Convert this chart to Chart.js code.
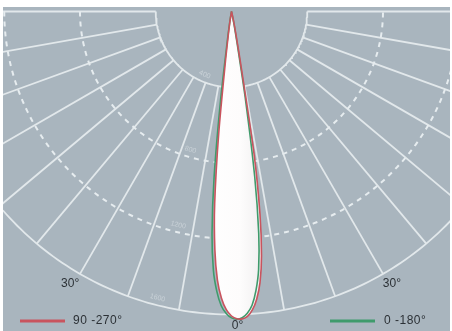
<!DOCTYPE html>
<html><head><meta charset="utf-8">
<script src="https://cdn.jsdelivr.net/npm/chart.js@4.4.0/dist/chart.umd.min.js"></script>
<style>html,body{margin:0;padding:0;background:#fff;}#w{width:452px;height:331px;position:relative;}</style>
</head><body><div id="w"><canvas id="c"></canvas></div>
<script>
// ---- data (angles in degrees, 0° = straight down, positive to the right) ----
const curveAngles = [-13,-12,-11,-10,-9,-8,-7,-6,-5,-4,-3,-2,-1,0,1,2,3,4,5,6,7,8,9,10,11,12,13,14];
const curve90_270 = [0,0,0,10,45,110,250,640,1020,1260,1420,1515,1575,1608,1623,1624,1612,1580,1525,1440,1300,1080,760,270,120,60,15,0];
const curve0_180  = [0,0,0,25,75,170,480,880,1180,1370,1480,1555,1595,1618,1625,1618,1595,1555,1480,1370,1180,880,480,170,75,25,0,0];
const gridAngles = [-90,-80,-70,-60,-50,-40,-30,-20,-10,0,10,20,30,40,50,60,70,80,90];
const ringValues = [400,800,1200,1600];
const ringLabels = ['400','800','1200','1600'];
const angleLabels = ['30°','30°','0°'];
const legendLabels = ['90 -270°','0 -180°'];

const K = 303/1600;            // pixels per cd (layout)
const PAD = {left:3,right:2,top:7,bottom:0};
const AW = 452-PAD.left-PAD.right, AH = 331-PAD.top-PAD.bottom;
const CX = 228.5, CY = 4.5;     // centre inside chart area (px)

function pol(a, r){ const t=a*Math.PI/180; return {x:r*Math.sin(t), y:-r*Math.cos(t)}; }
function curve(vals){ return curveAngles.map((a,i)=>pol(a, vals[i])); }

const GRID = '#e2e8eb';
const datasets = [];
datasets.push({label:'r', data:curve(curve90_270), borderColor:'#c9545e', borderWidth:1.6, pointRadius:0, tension:0.25, fill:false, order:0});
datasets.push({label:'g', data:curve(curve0_180), borderColor:'#3f9b6c', borderWidth:1.6, pointRadius:0, tension:0.25, fill:false, order:1});
datasets.push({label:'fill', data:curve(curve90_270), borderWidth:0, pointRadius:0, tension:0.25, fill:'shape', order:2,
  backgroundColor:(ctx)=>{ const ca=ctx.chart.chartArea; if(!ca) return '#fff';
    const g=ctx.chart.ctx.createLinearGradient(ca.left+CX-30,0,ca.left+CX+35,0);
    g.addColorStop(0,'#ffffff'); g.addColorStop(0.6,'#fdfcfc'); g.addColorStop(1,'#eeeced'); return g; }});
ringValues.forEach((rv,i)=>{
  const pts=[]; for(let a=-90;a<=90;a+=1) pts.push(pol(a,rv));
  const dashed = (i===1||i===2);
  datasets.push({label:'ring'+i, data:pts, borderColor:dashed?'#e6ecef':GRID, borderWidth:dashed?2:1.8, borderDash:dashed?[5,5]:[], pointRadius:0, fill:false, order:3});
});
gridAngles.forEach(a=>{
  datasets.push({label:'rad'+a, data:[pol(a,ringValues[0]),pol(a,ringValues[3])], borderColor:GRID, borderWidth:1.8, pointRadius:0, fill:false, order:3});
});

const bgPlugin = {id:'bg', beforeDraw(chart){ const {ctx,chartArea:ca}=chart; ctx.save(); ctx.fillStyle='#fff'; ctx.fillRect(0,0,chart.width,chart.height); ctx.fillStyle='#a9b5be'; ctx.fillRect(ca.left,ca.top,ca.right-ca.left,ca.bottom-ca.top); ctx.restore(); }};

const textPlugin = {id:'txt', afterDatasetsDraw(chart){
  const {ctx}=chart; const xs=chart.scales.x, ys=chart.scales.y;
  const P=(a,r)=>{const p=pol(a,r); return {x:xs.getPixelForValue(p.x), y:ys.getPixelForValue(p.y)};};
  ctx.save();
  // ring labels
  const lAng=[-23,-16.5,-14,-14.5];
  ctx.font='7px "Liberation Sans", Arial, sans-serif'; ctx.fillStyle='rgba(240,244,246,0.45)'; ctx.textAlign='center'; ctx.textBaseline='middle';
  ringValues.forEach((rv,i)=>{ const p=P(lAng[i], rv-38); ctx.save(); ctx.translate(p.x,p.y); ctx.rotate(-lAng[i]*Math.PI/180); ctx.fillText(ringLabels[i],0,0); ctx.restore(); });
  // angle labels
  ctx.font='12px "Liberation Sans", Arial, sans-serif'; ctx.fillStyle='#2c3136';
  const aPos=[[-30.7,1669],[30.5,1669],[1.1,1657]];
  angleLabels.forEach((t,i)=>{ const p=P(aPos[i][0],aPos[i][1]); ctx.fillText(t,p.x,p.y); });
  // legend
  ctx.lineWidth=3; ctx.strokeStyle='#c9545e'; ctx.beginPath(); ctx.moveTo(20,321); ctx.lineTo(65,321); ctx.stroke();
  ctx.strokeStyle='#3f9b6c'; ctx.beginPath(); ctx.moveTo(330,321); ctx.lineTo(375,321); ctx.stroke();
  ctx.textAlign='left'; ctx.letterSpacing='0.5px';
  ctx.fillText(legendLabels[0],73,321); ctx.fillText(legendLabels[1],384,321);
  ctx.restore();
}};

new Chart(document.getElementById('c'), {
  type:'scatter',
  data:{datasets},
  options:{
    responsive:true, maintainAspectRatio:false, animation:false,
    layout:{padding:PAD},
    showLine:true,
    plugins:{legend:{display:false}, tooltip:{enabled:false}},
    scales:{
      x:{type:'linear', display:false, min:-CX/K, max:(AW-CX)/K},
      y:{type:'linear', display:false, min:-(AH-CY)/K, max:CY/K}
    }
  },
  plugins:[bgPlugin,textPlugin]
});
</script></body></html>
